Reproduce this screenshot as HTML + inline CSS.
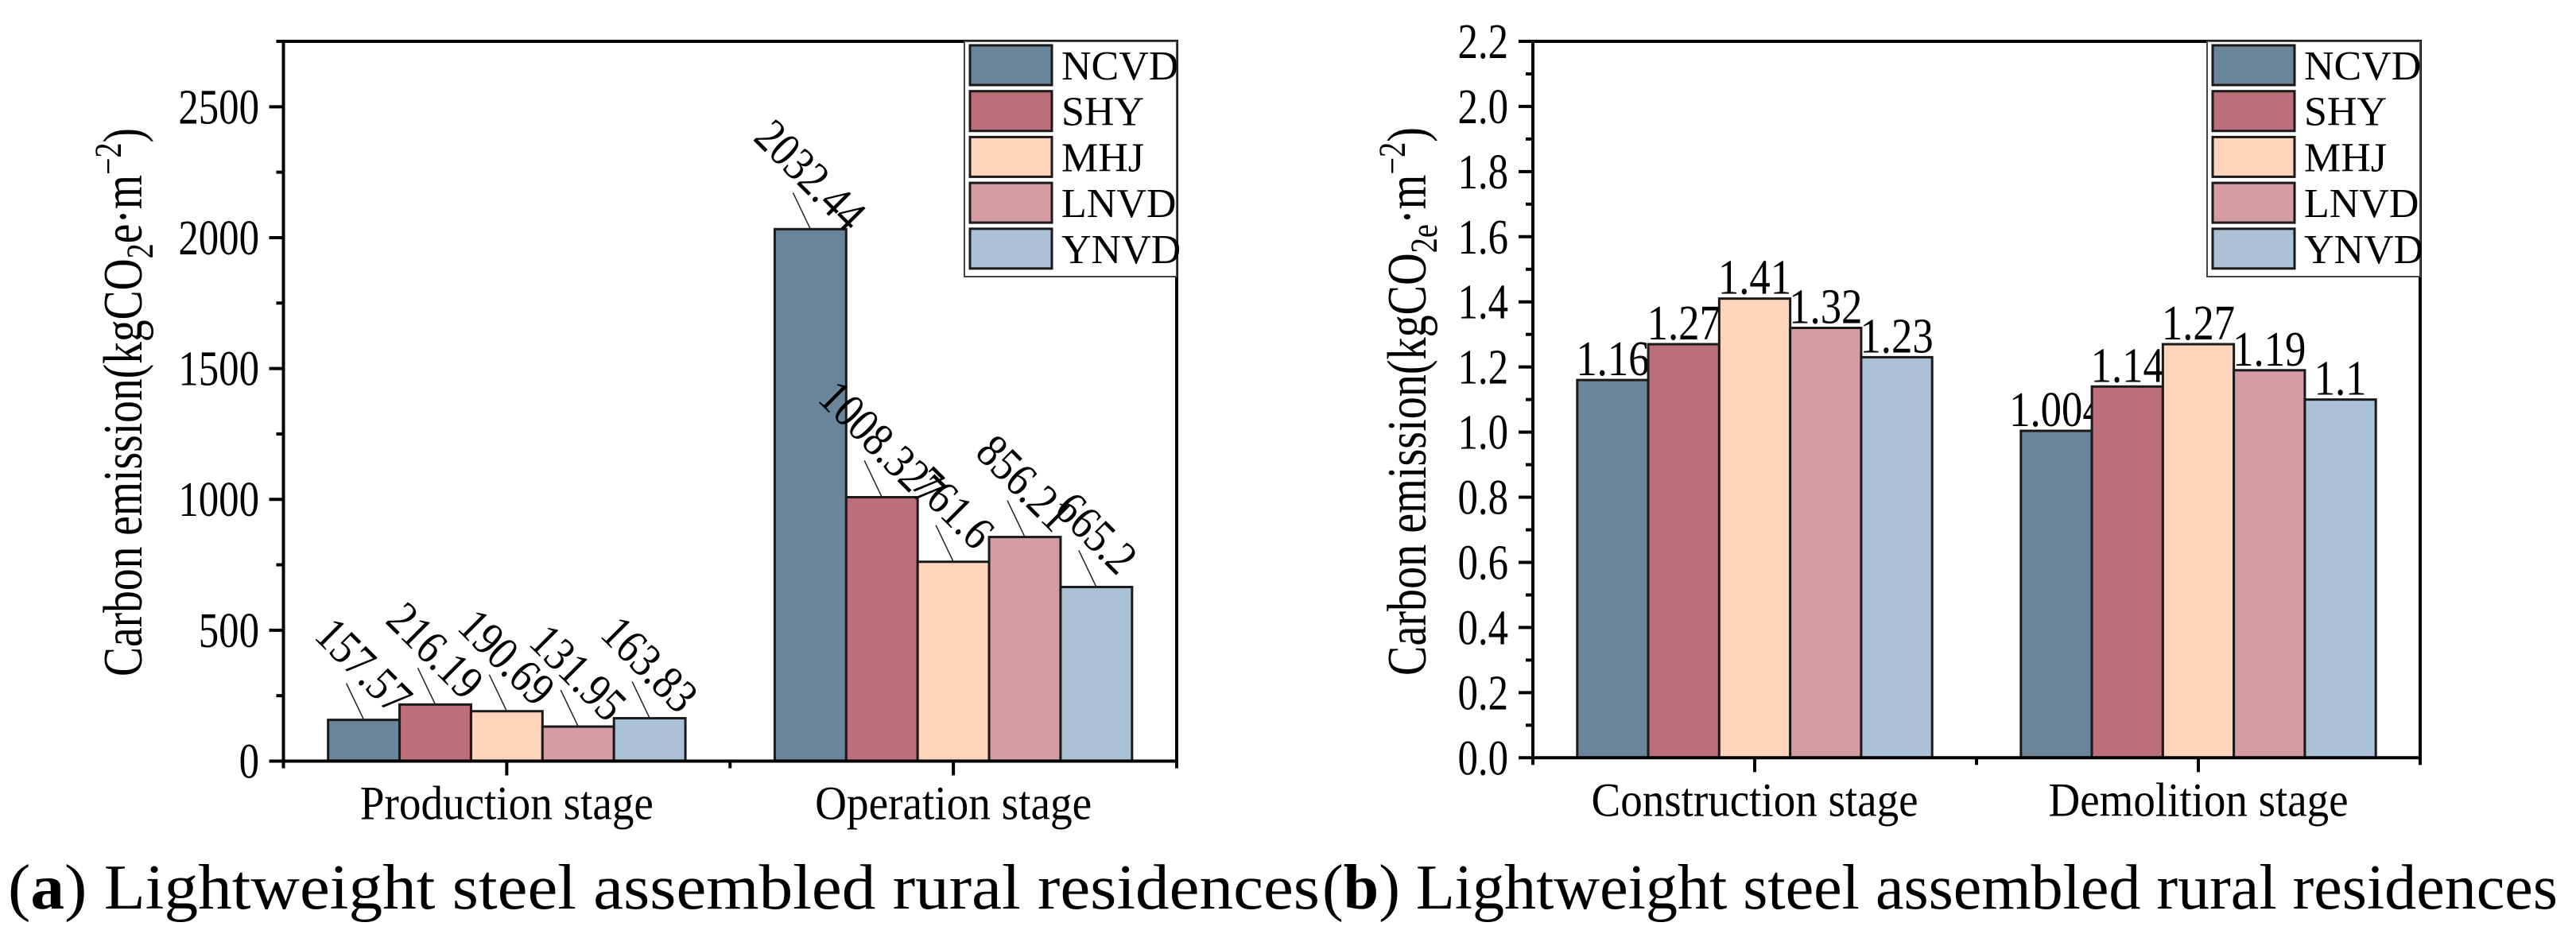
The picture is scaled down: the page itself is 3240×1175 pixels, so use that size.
<!DOCTYPE html>
<html><head><meta charset="utf-8"><style>
html,body{margin:0;padding:0;background:#fff;}
svg{display:block;font-family:"Liberation Serif",serif;}
</style></head><body>
<svg id="fig" width="3240" height="1175" viewBox="0 0 3240 1175" xmlns="http://www.w3.org/2000/svg">
<text x="10" y="1143" font-size="80" textLength="1650" lengthAdjust="spacingAndGlyphs">(<tspan font-weight="bold">a</tspan>) Lightweight steel assembled rural residences</text>
<text x="1663" y="1143" font-size="80" textLength="1554" lengthAdjust="spacingAndGlyphs">(<tspan font-weight="bold">b</tspan>) Lightweight steel assembled rural residences</text>
</svg>
<script>
const seriesNames = ["NCVD","SHY","MHJ","LNVD","YNVD"];
const seriesColors = ["#6a8499","#bc6f78","#fed5bc","#d59da3","#abc1d6"];
const catsA = ["Production stage","Operation stage"];
const productionVals = [157.57,216.19,190.69,131.95,163.83];
const operationVals = [2032.44,1008.327,761.6,856.21,665.2];
const labelsA = [["157.57","216.19","190.69","131.95","163.83"],["2032.44","1008.327","761.6","856.21","665.2"]];
const ticksA = [0,500,1000,1500,2000,2500];
const catsB = ["Construction stage","Demolition stage"];
const constructionVals = [1.16,1.27,1.41,1.32,1.23];
const demolitionVals = [1.004,1.14,1.27,1.19,1.1];
const labelsB = [["1.16","1.27","1.41","1.32","1.23"],["1.004","1.14","1.27","1.19","1.1"]];
const ticksB = [0,0.2,0.4,0.6,0.8,1.0,1.2,1.4,1.6,1.8,2.0,2.2];

const NS="http://www.w3.org/2000/svg";
const svg=document.getElementById('fig');
function mk(tag,attrs,parent){const e=document.createElementNS(NS,tag);for(const k in attrs)e.setAttribute(k,attrs[k]);(parent||svg).appendChild(e);return e;}

function chart(cfg){
  const g=mk('g',{});
  
  
  const L=cfg.left,R=cfg.right,T=cfg.top,B=cfg.zero;
  const y=v=>B-(v/cfg.ymax)*(B-T);
  const catW=(R-L)/cfg.cats.length;
  const barW=catW*0.8/5;
  const xc=i=>L+catW*(i+0.5);
  cfg.data.forEach((vals,ci)=>{
    vals.forEach((v,si)=>{
      const x0=xc(ci)-catW*0.4+si*barW;
      const r=mk('rect',{x:x0,y:y(v),width:barW,height:B-y(v),fill:seriesColors[si],stroke:'#1a1a1a','stroke-width':3},g);
      
      
      const cx=x0+barW/2, top=y(v);
      if(cfg.rotLabels){
        const ln=mk('line',{x1:cx,y1:top,x2:cx-22,y2:top-46,stroke:'#222','stroke-width':1.5},g);
        
        
        const t=mk('text',{transform:`translate(${cx},${top-68}) rotate(45) scale(0.86,1)`,'text-anchor':'middle',y:20,'font-size':60},g);
        t.textContent=cfg.labels[ci][si];
        
        
      } else {
        const t=mk('text',{transform:`translate(${cx},${top-6}) scale(0.85,1)`,'text-anchor':'middle','font-size':62},g);
        t.textContent=cfg.labels[ci][si];
        
        
      }
    });
  });
  const fr=mk('path',{d:`M${L},${B} L${L},${T} L${R},${T} L${R},${B} Z`,fill:'none',stroke:'#000','stroke-width':4},g);
  
  
  const step=cfg.ticks[1]-cfg.ticks[0];
  for(let v=0;v<=cfg.ymax+1e-9;v+=step/2){
    const major=Math.abs(Math.round(v/step)*step-v)<1e-9;
    mk('line',{x1:L-(major?18:9),x2:L,y1:y(v),y2:y(v),stroke:'#000','stroke-width':4},g);
  }
  cfg.ticks.forEach(v=>{
    const t=mk('text',{transform:`translate(${cfg.tickRight},${y(v)+21}) scale(0.82,1)`,'text-anchor':'end','font-size':62},g);
    t.textContent=cfg.fmt(v);
    
    
  });
  for(let k=0;k<=4;k++){
    const x=L+(R-L)*k/4;
    mk('line',{x1:x,x2:x,y1:B,y2:B+(k%2?18:9),stroke:'#000','stroke-width':4},g);
  }
  cfg.cats.forEach((c,i)=>{
    const t=mk('text',{x:xc(i),y:B+73,'text-anchor':'middle','font-size':60,textLength:cfg.catLen[i],lengthAdjust:'spacingAndGlyphs'},g);
    t.textContent=c;
    
    
  });
  const yt=mk('text',{transform:`translate(${cfg.titleX},${cfg.titleY}) rotate(-90)`,'text-anchor':'middle','font-size':70,textLength:690,lengthAdjust:'spacingAndGlyphs'},g);
  yt.innerHTML=cfg.title;
  
  
  const lg=mk('g',{},g);
  
  
  mk('rect',{x:cfg.legX,y:T,width:R-cfg.legX,height:296,fill:'#fff',stroke:'#444','stroke-width':2},lg);
  seriesNames.forEach((n,i)=>{
    const e=mk('g',{},lg);
    
    
    mk('rect',{x:cfg.legX+7,y:T+5+i*57.7,width:103,height:50,fill:seriesColors[i],stroke:'#1a1a1a','stroke-width':3},e);
    const t=mk('text',{x:cfg.legX+122,y:T+48+i*57.7,'font-size':52},e);
    t.textContent=n;
  });
}

chart({name:'chart-a',left:356.5,right:1480,top:52,zero:957.5,ymax:2750,cats:catsA,
  data:[productionVals,operationVals],labels:labelsA,ticks:ticksA,fmt:v=>String(v),
  tickRight:326,rotLabels:true,catLen:[369,348],titleX:178,titleY:506,legX:1213,
  title:'Carbon emission(kgCO<tspan font-size="48" dy="14">2</tspan><tspan dy="-14">e·m</tspan><tspan font-size="48" dy="-26">−2</tspan><tspan dy="26">)</tspan>'});
chart({name:'chart-b',left:1928,right:3044,top:52,zero:953.3,ymax:2.2,cats:catsB,
  data:[constructionVals,demolitionVals],labels:labelsB,ticks:ticksB,fmt:v=>v.toFixed(1),
  tickRight:1897,rotLabels:false,catLen:[411,377],titleX:1793,titleY:505,legX:2776,
  title:'Carbon emission(kgCO<tspan font-size="48" dy="14">2e</tspan><tspan dy="-14">·m</tspan><tspan font-size="48" dy="-26">−2</tspan><tspan dy="26">)</tspan>'});
</script>
</body></html>
